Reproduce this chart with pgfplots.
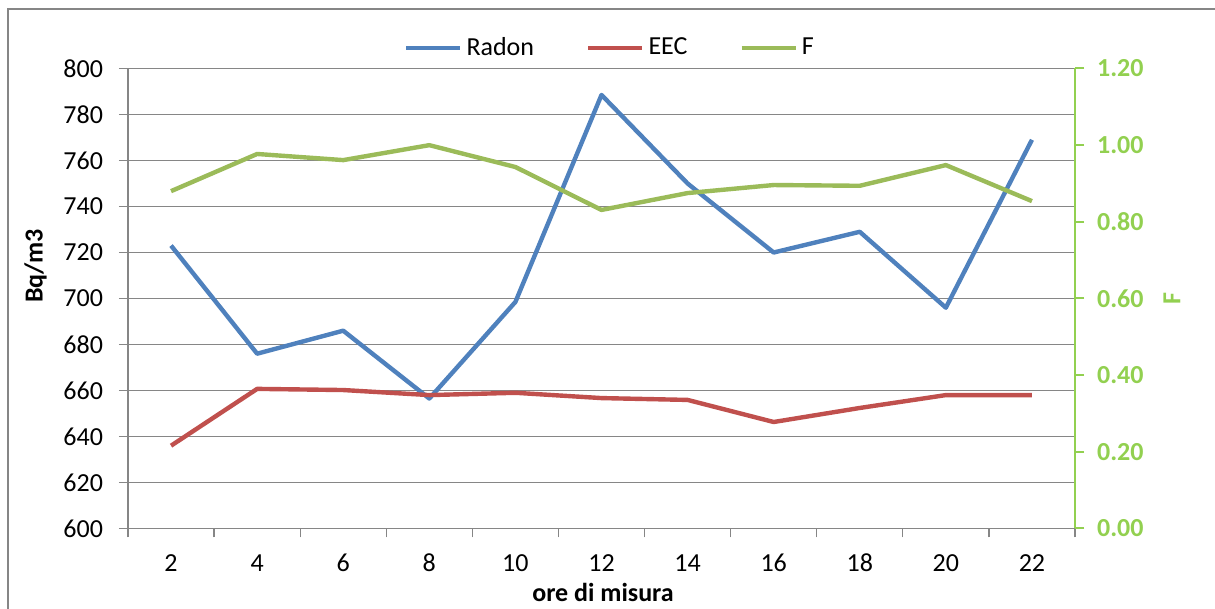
\documentclass[border=0pt]{standalone}
\usepackage{fontspec}
\setmainfont{Carlito}
\usepackage{pgfplots}
\usepackage{pgfplotstable}
\pgfplotsset{compat=1.18}

\definecolor{radon}{HTML}{4F81BD}
\definecolor{eec}{HTML}{C0504D}
\definecolor{fcol}{HTML}{9BBB59}
\definecolor{faxis}{HTML}{92D050}
\definecolor{axgray}{HTML}{868686}

% hourly measurements: radon and EEC in Bq/m3, equilibrium factor F
\pgfplotstableread{
x  radon  eec    f
2  723    636    0.880
4  676    660.7  0.977
6  686    660.2  0.961
8  656.5  658    1.000
10 698.5  659    0.943
12 788.5  656.7  0.831
14 750    655.9  0.875
16 720    646.3  0.896
18 729    652.4  0.894
20 696    658    0.948
22 769    658    0.854
}\measures

\newcommand\chartfont{\fontsize{13}{15}\selectfont}

\pgfplotsset{
  common/.style={
    at={(64pt,40.25pt)}, anchor=south west,
    scale only axis, width=473.5pt, height=230pt,
    xmin=1, xmax=23,
    tick align=outside, major tick length=4.5pt,
    /pgf/number format/assume math mode=true,
    ticklabel style={font=\chartfont},
  },
}

\begin{document}
\begin{tikzpicture}
\useasboundingbox (0,0) rectangle (607.5pt,304.5pt);
\draw[axgray, line width=1pt] (4pt,0pt) -- (4pt,300pt) -- (607.5pt,300pt);

\begin{axis}[common,
  ymin=600, ymax=800,
  axis x line*=bottom, axis y line*=left,
  axis line style={axgray, line width=0.6pt},
  tick style={axgray, line width=0.6pt},
  xtick={1,3,...,23}, xticklabels={},
  extra x ticks={2,4,...,22},
  extra x tick labels={2,4,6,8,10,12,14,16,18,20,22},
  extra x tick style={major tick length=0pt},
  xticklabel style={anchor=center, yshift=-17.25pt},
  ytick={600,620,...,800},
  yticklabel style={xshift=-4.5pt},
  ymajorgrids, grid style={axgray, line width=0.6pt},
  xlabel={\textbf{ore di misura}},
  xlabel style={font=\chartfont, at={(axis description cs:0.5016,-0.14)}, anchor=center},
  ylabel={\textbf{Bq/m3}},
  ylabel style={font=\chartfont, at={(axis description cs:-0.0977,0.5707)}, anchor=center},
]
\addplot[radon, line width=2.2pt, line join=round] table[x=x, y=radon] {\measures};
\addplot[eec, line width=2.2pt, line join=round] table[x=x, y=eec] {\measures};
\end{axis}

\begin{axis}[common,
  ymin=0, ymax=1.2,
  axis x line=none, axis y line*=right,
  axis line style={faxis, line width=1pt},
  tick style={faxis, line width=1pt},
  ytick={0,0.2,...,1.2},
  yticklabel style={text=faxis, font=\chartfont\bfseries, xshift=3pt,
    /pgf/number format/fixed, /pgf/number format/fixed zerofill,
    /pgf/number format/precision=2},
  ylabel={\textbf{F}},
  ylabel style={text=faxis, font=\chartfont, at={(axis description cs:1.1024,0.4990)}, anchor=center},
  legend columns=3,
  legend style={at={(axis description cs:0.5100,1.0446)}, anchor=center, draw=none, fill=none,
    font=\chartfont,
    /tikz/every even column/.append style={column sep=24pt}},
  legend image code/.code={\draw[#1] (0pt,0pt) -- (27pt,0pt);},
]
\addlegendimage{radon, line width=2.2pt}
\addlegendentry{Radon}
\addlegendimage{eec, line width=2.2pt}
\addlegendentry{EEC}
\addplot[fcol, line width=2.2pt, line join=round] table[x=x, y=f] {\measures};
\addlegendentry{F}
\end{axis}
\end{tikzpicture}
\end{document}
